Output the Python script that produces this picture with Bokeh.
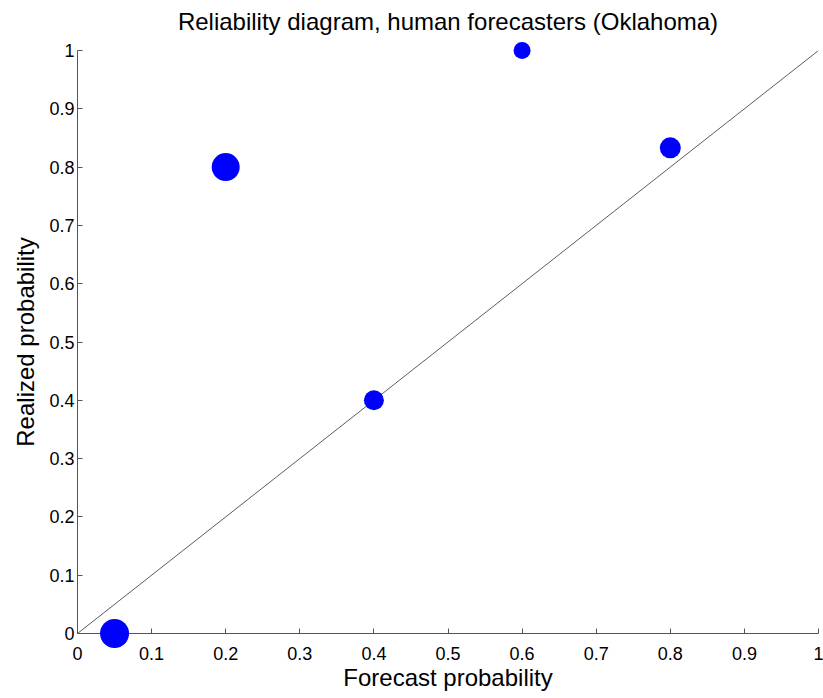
from bokeh.plotting import figure
from bokeh.models import FixedTicker, Range1d, ColumnDataSource, Title
from bokeh.embed import file_html
from bokeh.resources import INLINE

# Data
forecast_prob = [0.05, 0.2, 0.4, 0.6, 0.8]
realized_prob = [0.0, 0.8, 0.4, 1.0, 0.833]
marker_diam = [29, 28, 20, 17, 21]

tick_values = [0, 0.1, 0.2, 0.3, 0.4, 0.5, 0.6, 0.7, 0.8, 0.9, 1]
tick_labels = ["0", "0.1", "0.2", "0.3", "0.4", "0.5", "0.6", "0.7", "0.8", "0.9", "1"]

diag = [0, 1]

title_text = "Reliability diagram, human forecasters (Oklahoma)"

FONT = "Liberation Sans"

p = figure(
    width=823, height=698,
    output_backend="svg", toolbar_location=None,
    x_range=Range1d(0, 1), y_range=Range1d(0, 1),
    title=None,
    min_border_left=77, min_border_right=5, min_border_top=49, min_border_bottom=65,
)
p.outline_line_color = None
p.grid.visible = False
p.background_fill_color = "white"
p.border_fill_color = "white"

# small spacer between the frame and the title, then the title itself
spacer = Title(text=" ", text_font_size="4px", standoff=4)
p.add_layout(spacer, "above")
main_title = Title(text=title_text, text_font=FONT, text_font_size="24px",
                   text_font_style="normal", align="center", text_color="black",
                   standoff=10)
p.add_layout(main_title, "above")

labels_map = {v: l for v, l in zip(tick_values, tick_labels)}
for ax in (p.xaxis[0], p.yaxis[0]):
    ax.ticker = FixedTicker(ticks=tick_values)
    ax.major_label_overrides = labels_map
    ax.major_tick_in = 5
    ax.major_tick_out = 0
    ax.minor_tick_line_color = None
    ax.axis_line_color = "#555555"
    ax.major_tick_line_color = "#555555"
    ax.major_label_text_font = FONT
    ax.major_label_text_font_size = "18px"
    ax.major_label_text_color = "black"
    ax.axis_label_text_font = FONT
    ax.axis_label_text_font_size = "24px"
    ax.axis_label_text_font_style = "normal"
    ax.axis_label_text_color = "black"

p.xaxis.axis_label = "Forecast probability"
p.yaxis.axis_label = "Realized probability"
p.xaxis.major_label_standoff = 13
p.xaxis.axis_label_standoff = 1
p.yaxis.major_label_standoff = 3
p.yaxis.axis_label_standoff = 7

p.line(diag, diag, line_color="#333333", line_width=0.8)

src = ColumnDataSource(dict(x=forecast_prob, y=realized_prob, s=marker_diam))
p.scatter("x", "y", size="s", source=src, fill_color="#0000FF", line_color="#0000FF",
          line_width=0, level="overlay")

open("out.html", "w").write(file_html(p, INLINE))
